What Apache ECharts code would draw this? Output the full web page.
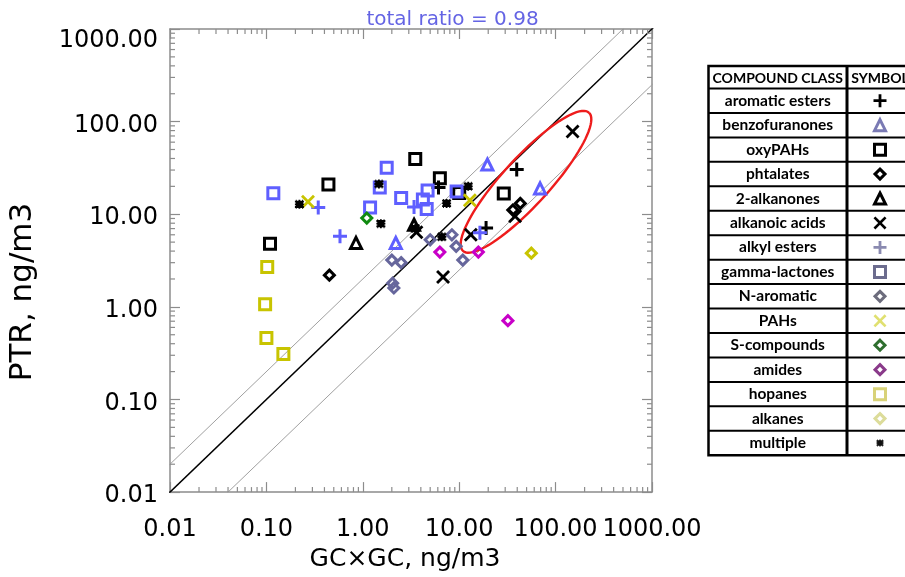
<!DOCTYPE html>
<html>
<head>
<meta charset="utf-8">
<script src="https://cdn.jsdelivr.net/npm/echarts@6/dist/echarts.min.js"></script>
<style>
  html, body { margin: 0; padding: 0; background: #fff; }
  #chart { width: 905px; height: 577px; }
</style>
</head>
<body>
<div id="chart"></div>
<script>
// tick labels of both log axes
const xTickLabels = ['0.01', '0.10', '1.00', '10.00', '100.00', '1000.00']
const yTickLabels = ['0.01', '0.10', '1.00', '10.00', '100.00', '1000.00']

// compound classes, in table order
const compoundClasses = [
  'aromatic esters', 'benzofuranones', 'oxyPAHs', 'phtalates', '2-alkanones',
  'alkanoic acids', 'alkyl esters', 'gamma-lactones', 'N-aromatic', 'PAHs',
  'S-compounds', 'amides', 'hopanes', 'alkanes', 'multiple'
]

// [GCxGC, PTR] in ng/m3
const aromaticEsters = [[6.1, 19.5], [19, 7.1], [39.5, 30.5]]
const benzofuranones = [[2.2, 4.9], [19.6, 34.4], [69, 19]]
const oxyPAHs = [[0.109, 4.8], [0.44, 21], [3.5, 39.5], [6.3, 24.5], [10, 17], [29, 16.7]]
const phtalates = [[0.45, 2.2], [36, 11.1], [43, 13.1]]
const alkanones = [[0.85, 4.9], [3.4, 7.7]]
const alkanoicAcids = [[3.6, 6.4], [13.2, 6.0], [6.8, 2.1], [38, 9.5], [150, 78]]
const alkylEsters = [[0.345, 11.8], [0.58, 5.8], [3.4, 12], [16.4, 6.3]]
const gammaLactones = [[0.118, 16.9], [1.77, 31.7], [1.5, 19.5], [1.19, 11.8], [2.5, 15],
  [4.7, 18], [4.2, 14.4], [4.6, 11.4], [9.4, 17.6]]
const nAromatic = [[2.0, 3.2], [2.5, 3.0], [2.04, 1.8], [2.1, 1.6], [5.0, 5.3], [8.4, 6.0],
  [9.3, 4.5], [10.9, 3.2]]
const pahs = [[0.27, 13.6], [12.9, 14.2]]
const sCompounds = [[1.1, 9.1]]
const amides = [[6.3, 3.9], [15.8, 3.9], [32, 0.71]]
const hopanes = [[0.102, 2.7], [0.097, 1.07], [0.1, 0.46], [0.15, 0.31]]
const alkanes = [[56, 3.8]]
const multiple = [[0.22, 12.8], [1.47, 21.2], [1.54, 7.9], [7.4, 13.1], [12.4, 20], [6.6, 5.7], [3.5, 7.0]]

// reference lines PTR = ratio * GCxGC
const refRatios = [1, 2, 0.25]
const totalRatio = 0.98

// highlighted group (ellipse): centre and tip of the long axis, in data units
const ellipseCenter = [49.3, 22.4]
const ellipseTip = [222, 125]
const ellipseAspect = 0.25

const PLUS = 'path://M5.5,0H8.5V5.5H14V8.5H8.5V14H5.5V8.5H0V5.5H5.5Z'
const CROSS = 'path://M0,2L2,0L7,5L12,0L14,2L9,7L14,12L12,14L7,9L2,14L0,12L5,7Z'
const BLOB = 'path://M1,0H2V1H4V0H6V1H8V0H9V1H10V3H9V4H10V6H9V7H10V9H9V10H8V9H6V10H4V9H2V10H1V9H0V7H1V6H0V4H1V3H0V1H1Z'

const BLUE = '#5f5fff'
const SLATE = '#66669c'
const YELLOW = '#c8c400'

// symbol per class: [symbol, plot colour, legend colour, open, size]
const classStyle = [
  [PLUS, '#000', '#000', false, 14],
  ['triangle', BLUE, '#7a7ab4', true, 11],
  ['rect', '#000', '#000', true, 11],
  ['diamond', '#000', '#000', true, 10],
  ['triangle', '#000', '#000', true, 11],
  [CROSS, '#000', '#000', false, 14],
  [PLUS, BLUE, '#8a8ab0', false, 14],
  ['rect', BLUE, '#6c6c8e', true, 11],
  ['diamond', SLATE, '#6c6c7c', true, 10],
  [CROSS, YELLOW, '#e0e070', false, 14],
  ['diamond', '#108a10', '#2e6e2e', true, 10],
  ['diamond', '#c800c8', '#8a3a8a', true, 10],
  ['rect', YELLOW, '#d8d278', true, 11],
  ['diamond', YELLOW, '#dcdc9a', true, 10],
  [BLOB, '#000', '#111', false, 9]
]
const classData = [aromaticEsters, benzofuranones, oxyPAHs, phtalates, alkanones,
  alkanoicAcids, alkylEsters, gammaLactones, nAromatic, pahs, sCompounds, amides,
  hopanes, alkanes, multiple]

const chart = echarts.init(document.getElementById('chart'))

const FONT = 'DejaVu Sans'
const AXIS_GRAY = '#8c8c8c'

// minor ticks of the log axes (2..9 in every decade)
const minorTicks = []
for (let d = -2; d < 3; d++) {
  for (let k = 2; k <= 9; k++) minorTicks.push(k * Math.pow(10, d))
}

// top padding per y tick label; the top one sits lower than its tick
const yLabelPadTop = [8, 8, 8, 8, 8, 24]
const yRich = {}
yLabelPadTop.forEach((p, i) => {
  yRich['l' + i] = {
    fontFamily: FONT,
    fontSize: 24,
    color: '#000',
    padding: [p, 0, 0, 0]
  }
})

function logAxis(position, showLabels) {
  return {
    type: 'log',
    logBase: 10,
    min: 0.01,
    max: 1000,
    position: position,
    axisLine: { show: true, onZero: false, lineStyle: { color: AXIS_GRAY, width: 1.5 } },
    axisTick: { show: true, inside: true, length: 10, lineStyle: { color: AXIS_GRAY, width: 1.2 } },
    splitLine: { show: false },
    minorTick: { show: false },
    axisLabel: { show: showLabels }
  }
}

const tickStyle = { stroke: AXIS_GRAY, lineWidth: 1.2 }

const scatterSeries = classData.map((data, i) => {
  const st = classStyle[i]
  return {
    name: compoundClasses[i],
    type: 'scatter',
    data: data,
    symbol: st[0],
    symbolSize: st[4],
    symbolKeepAspect: true,
    z: 5,
    itemStyle: st[3]
      ? { color: 'rgba(0,0,0,0)', borderColor: st[1], borderWidth: 3, opacity: 1 }
      : { color: st[1], opacity: 1 }
  }
})

const refSeries = refRatios.map(r => ({
  type: 'line',
  data: [[0.001, 0.001 * r], [10000, 10000 * r]],
  symbol: 'none',
  clip: true,
  silent: true,
  z: 2,
  lineStyle: r === 1 ? { color: '#000', width: 1.5 } : { color: '#a0a0a0', width: 1 }
}))

// table geometry (right side)
const tblLeft = 708.5
const tblTop = 66
const headBottom = 88.5
const rowH = 24.45
const colDiv = 847
const tblBottom = headBottom + rowH * compoundClasses.length

const tableGraphics = [
  { type: 'rect', shape: { x: tblLeft, y: tblTop, width: 230, height: tblBottom - tblTop },
    style: { fill: 'none', stroke: '#000', lineWidth: 2.5 } },
  { type: 'line', shape: { x1: colDiv, y1: tblTop, x2: colDiv, y2: tblBottom },
    style: { stroke: '#000', lineWidth: 3 } },
  { type: 'text', x: (tblLeft + colDiv) / 2, y: (tblTop + headBottom) / 2 + 1,
    style: { text: 'COMPOUND CLASS', font: 'bold 14px Lato', fill: '#000', align: 'center', verticalAlign: 'middle' } },
  { type: 'text', x: 880, y: (tblTop + headBottom) / 2 + 1,
    style: { text: 'SYMBOL', font: 'bold 14px Lato', fill: '#000', align: 'center', verticalAlign: 'middle' } }
]
compoundClasses.forEach((c, i) => {
  const y0 = headBottom + rowH * i
  tableGraphics.push({ type: 'line', shape: { x1: tblLeft, y1: y0, x2: 910, y2: y0 },
    style: { stroke: '#000', lineWidth: 2 } })
  tableGraphics.push({ type: 'text', x: (tblLeft + colDiv) / 2, y: y0 + rowH / 2,
    style: { text: c, font: 'bold 15.5px Lato', fill: '#000', align: 'center', verticalAlign: 'middle' } })
})

const xBottom = logAxis('bottom', true)
xBottom.axisLabel = {
  show: true,
  color: '#000',
  fontFamily: FONT,
  fontSize: 24,
  margin: 26,
  formatter: (v, i) => xTickLabels[i]
}
xBottom.name = 'GC×GC, ng/m3'
xBottom.nameLocation = 'middle'
xBottom.nameGap = 50
xBottom.nameTextStyle = { color: '#000', fontFamily: FONT, fontSize: 25, padding: [0, 12, 0, 0] }

const yLeft = logAxis('left', true)
yLeft.axisLabel = {
  show: true,
  margin: 12,
  formatter: (v, i) => '{l' + i + '|' + yTickLabels[i] + '}',
  rich: yRich
}

const option = {
  animation: false,
  backgroundColor: '#fff',
  title: {
    text: 'total ratio = ' + totalRatio.toFixed(2),
    left: 'center',
    top: 5,
    textStyle: { color: '#6464e4', fontFamily: FONT, fontSize: 20, fontWeight: 'normal' }
  },
  grid: [
    { left: 170, top: 29, width: 482, height: 476 },
    { left: 860, top: headBottom, width: 40, height: tblBottom - headBottom }
  ],
  xAxis: [
    xBottom,
    logAxis('top', false),
    { gridIndex: 1, type: 'value', min: 0, max: 1, show: false }
  ],
  yAxis: [
    yLeft,
    logAxis('right', false),
    { gridIndex: 1, type: 'category', data: compoundClasses, inverse: true, show: false }
  ],
  graphic: [
    { type: 'text', x: 23, y: 292, rotation: Math.PI / 2,
      style: { text: 'PTR, ng/m3', font: '31px "DejaVu Sans"', fill: '#000', align: 'center', verticalAlign: 'middle' } }
  ].concat(tableGraphics),
  series: [
    // minor ticks along x (bottom and top)
    {
      type: 'custom',
      silent: true,
      clip: false,
      z: 3,
      data: minorTicks.map(v => [v, 1]),
      renderItem(params, api) {
        const x = api.coord([api.value(0), 1])[0]
        const cs = params.coordSys
        return {
          type: 'group',
          children: [
            { type: 'line', shape: { x1: x, y1: cs.y + cs.height, x2: x, y2: cs.y + cs.height - 5 }, style: tickStyle },
            { type: 'line', shape: { x1: x, y1: cs.y, x2: x, y2: cs.y + 5 }, style: tickStyle }
          ]
        }
      }
    },
    // minor ticks along y (left and right)
    {
      type: 'custom',
      silent: true,
      clip: false,
      z: 3,
      data: minorTicks.map(v => [1, v]),
      renderItem(params, api) {
        const y = api.coord([1, api.value(1)])[1]
        const cs = params.coordSys
        return {
          type: 'group',
          children: [
            { type: 'line', shape: { x1: cs.x, y1: y, x2: cs.x + 5, y2: y }, style: tickStyle },
            { type: 'line', shape: { x1: cs.x + cs.width, y1: y, x2: cs.x + cs.width - 5, y2: y }, style: tickStyle }
          ]
        }
      }
    },
    // red ellipse round the high-concentration group
    {
      type: 'custom',
      silent: true,
      clip: false,
      z: 4,
      data: [ellipseCenter.concat(ellipseTip)],
      renderItem(params, api) {
        const c = api.coord([api.value(0), api.value(1)])
        const t = api.coord([api.value(2), api.value(3)])
        const ux = t[0] - c[0]
        const uy = t[1] - c[1]
        const vx = -uy * ellipseAspect
        const vy = ux * ellipseAspect
        const pts = []
        for (let k = 0; k <= 90; k++) {
          const a = (k / 90) * Math.PI * 2
          pts.push([c[0] + ux * Math.cos(a) + vx * Math.sin(a), c[1] + uy * Math.cos(a) + vy * Math.sin(a)])
        }
        return {
          type: 'polyline',
          shape: { points: pts },
          style: { fill: 'none', stroke: '#ee1c1c', lineWidth: 2.4 }
        }
      }
    },
    // table symbols
    {
      type: 'scatter',
      xAxisIndex: 2,
      yAxisIndex: 2,
      silent: true,
      data: compoundClasses.map((c, i) => {
        const st = classStyle[i]
        return {
          value: [0.5, c],
          symbol: st[0],
          symbolSize: st[0] === BLOB ? 7 : (st[3] ? st[4] : st[4] - 1),
          symbolKeepAspect: true,
          itemStyle: st[3]
            ? { color: 'rgba(0,0,0,0)', borderColor: st[2], borderWidth: 3, opacity: 1 }
            : { color: st[2], opacity: 1 }
        }
      })
    }
  ].concat(refSeries, scatterSeries)
}

chart.setOption(option)
</script>
</body>
</html>
